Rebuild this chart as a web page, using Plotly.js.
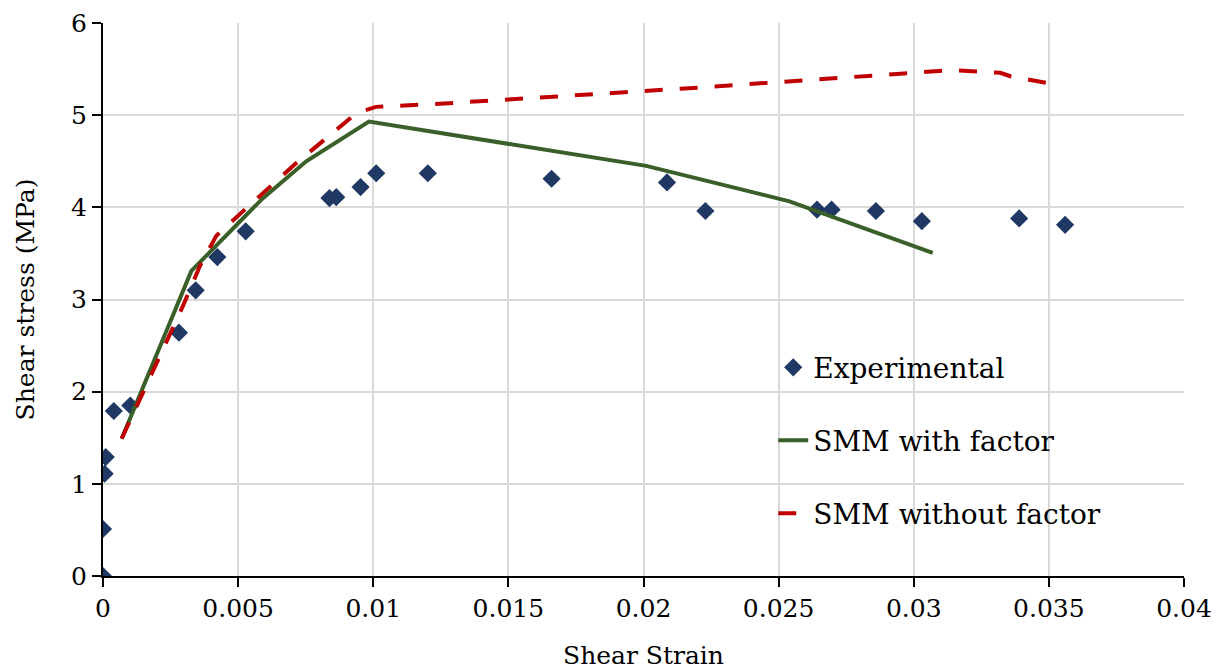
<!DOCTYPE html>
<html>
<head>
<meta charset="utf-8">
<script src="https://cdn.plot.ly/plotly-3.0.1.min.js"></script>
<style>html,body{margin:0;padding:0;background:#fff;}#chart{width:1220px;height:670px;}</style>
</head>
<body>
<div id="chart"></div>
<script>
// Experimental data
var expStrain = [0, 0, 0.00006, 0.0001, 0.0004, 0.00101, 0.00281, 0.00343, 0.00423, 0.00528, 0.00838, 0.00863, 0.00953, 0.01011, 0.01202, 0.0166, 0.02087, 0.02229, 0.02642, 0.02696, 0.0286, 0.0303, 0.0339, 0.0356];
var expStress = [0, 0.51, 1.11, 1.29, 1.79, 1.85, 2.64, 3.10, 3.46, 3.74, 4.10, 4.11, 4.22, 4.37, 4.37, 4.31, 4.27, 3.96, 3.975, 3.975, 3.96, 3.85, 3.88, 3.81];
// SMM with factor
var withStrain = [0.00069, 0.00327, 0.00592, 0.00752, 0.00984, 0.0201, 0.0254, 0.0307];
var withStress = [1.49, 3.31, 4.10, 4.50, 4.93, 4.45, 4.065, 3.505];
// SMM without factor
var withoutStrain = [0.00069, 0.00296, 0.00358, 0.00419, 0.0053, 0.00715, 0.00937, 0.0101, 0.0128, 0.0221, 0.03, 0.0314, 0.0332, 0.0336, 0.0351];
var withoutStress = [1.49, 2.93, 3.36, 3.69, 3.99, 4.48, 5.02, 5.09, 5.13, 5.30, 5.46, 5.49, 5.46, 5.42, 5.34];
// Tick labels
var xTicks = [0, 0.005, 0.01, 0.015, 0.02, 0.025, 0.03, 0.035, 0.04];
var xTickText = ['0', '0.005', '0.01', '0.015', '0.02', '0.025', '0.03', '0.035', '0.04'];
var yTicks = [0, 1, 2, 3, 4, 5, 6];

var serif = "DejaVu Serif, Liberation Serif, serif";

var traces = [
  {x: expStrain, y: expStress, type: 'scatter', mode: 'markers', name: 'Experimental', legendgroup: 'a',
   marker: {symbol: 'diamond', size: 14, color: '#1f3864'}},
  {x: withStrain, y: withStress, type: 'scatter', mode: 'lines', name: 'SMM with factor', legendgroup: 'b',
   line: {color: '#3a5f28', width: 4}},
  {x: withoutStrain, y: withoutStress, type: 'scatter', mode: 'lines', name: 'SMM without factor', legendgroup: 'c',
   line: {color: '#c00000', width: 4, dash: '18px,17px'}}
];

var layout = {
  width: 1220, height: 670,
  margin: {l: 103, r: 36, t: 23, b: 93.5},
  paper_bgcolor: '#fff', plot_bgcolor: '#fff',
  showlegend: true,
  font: {family: serif, color: '#000', size: 25},
  xaxis: {
    range: [0, 0.04], tickvals: xTicks, ticktext: xTickText,
    showgrid: true, gridcolor: '#d9d9d9', gridwidth: 2,
    showline: true, linecolor: '#000', linewidth: 2,
    ticks: 'outside', ticklen: 9, tickwidth: 2, tickcolor: '#000',
    zeroline: false,
    tickfont: {family: serif, size: 25, color: '#000'},
    title: {text: 'Shear Strain', font: {family: serif, size: 25, color: '#000'}, standoff: 26}
  },
  yaxis: {
    range: [0, 6], tickvals: yTicks,
    showgrid: true, gridcolor: '#d9d9d9', gridwidth: 2,
    showline: true, linecolor: '#000', linewidth: 2,
    ticks: 'outside', ticklen: 9, tickwidth: 2, tickcolor: '#000',
    zeroline: false,
    tickfont: {family: serif, size: 25, color: '#000'},
    title: {text: 'Shear stress (MPa)', font: {family: serif, size: 25, color: '#000'}, standoff: 29}
  },
  legend: {
    x: 0.62, y: 0.422, xanchor: 'left', yanchor: 'top',
    bgcolor: 'rgba(0,0,0,0)', borderwidth: 0,
    font: {family: serif, size: 28, color: '#000'},
    traceorder: 'grouped', tracegroupgap: 33.5
  },
  hovermode: false
};

Plotly.newPlot('chart', traces, layout, {displayModeBar: false, staticPlot: true});
</script>
</body>
</html>
